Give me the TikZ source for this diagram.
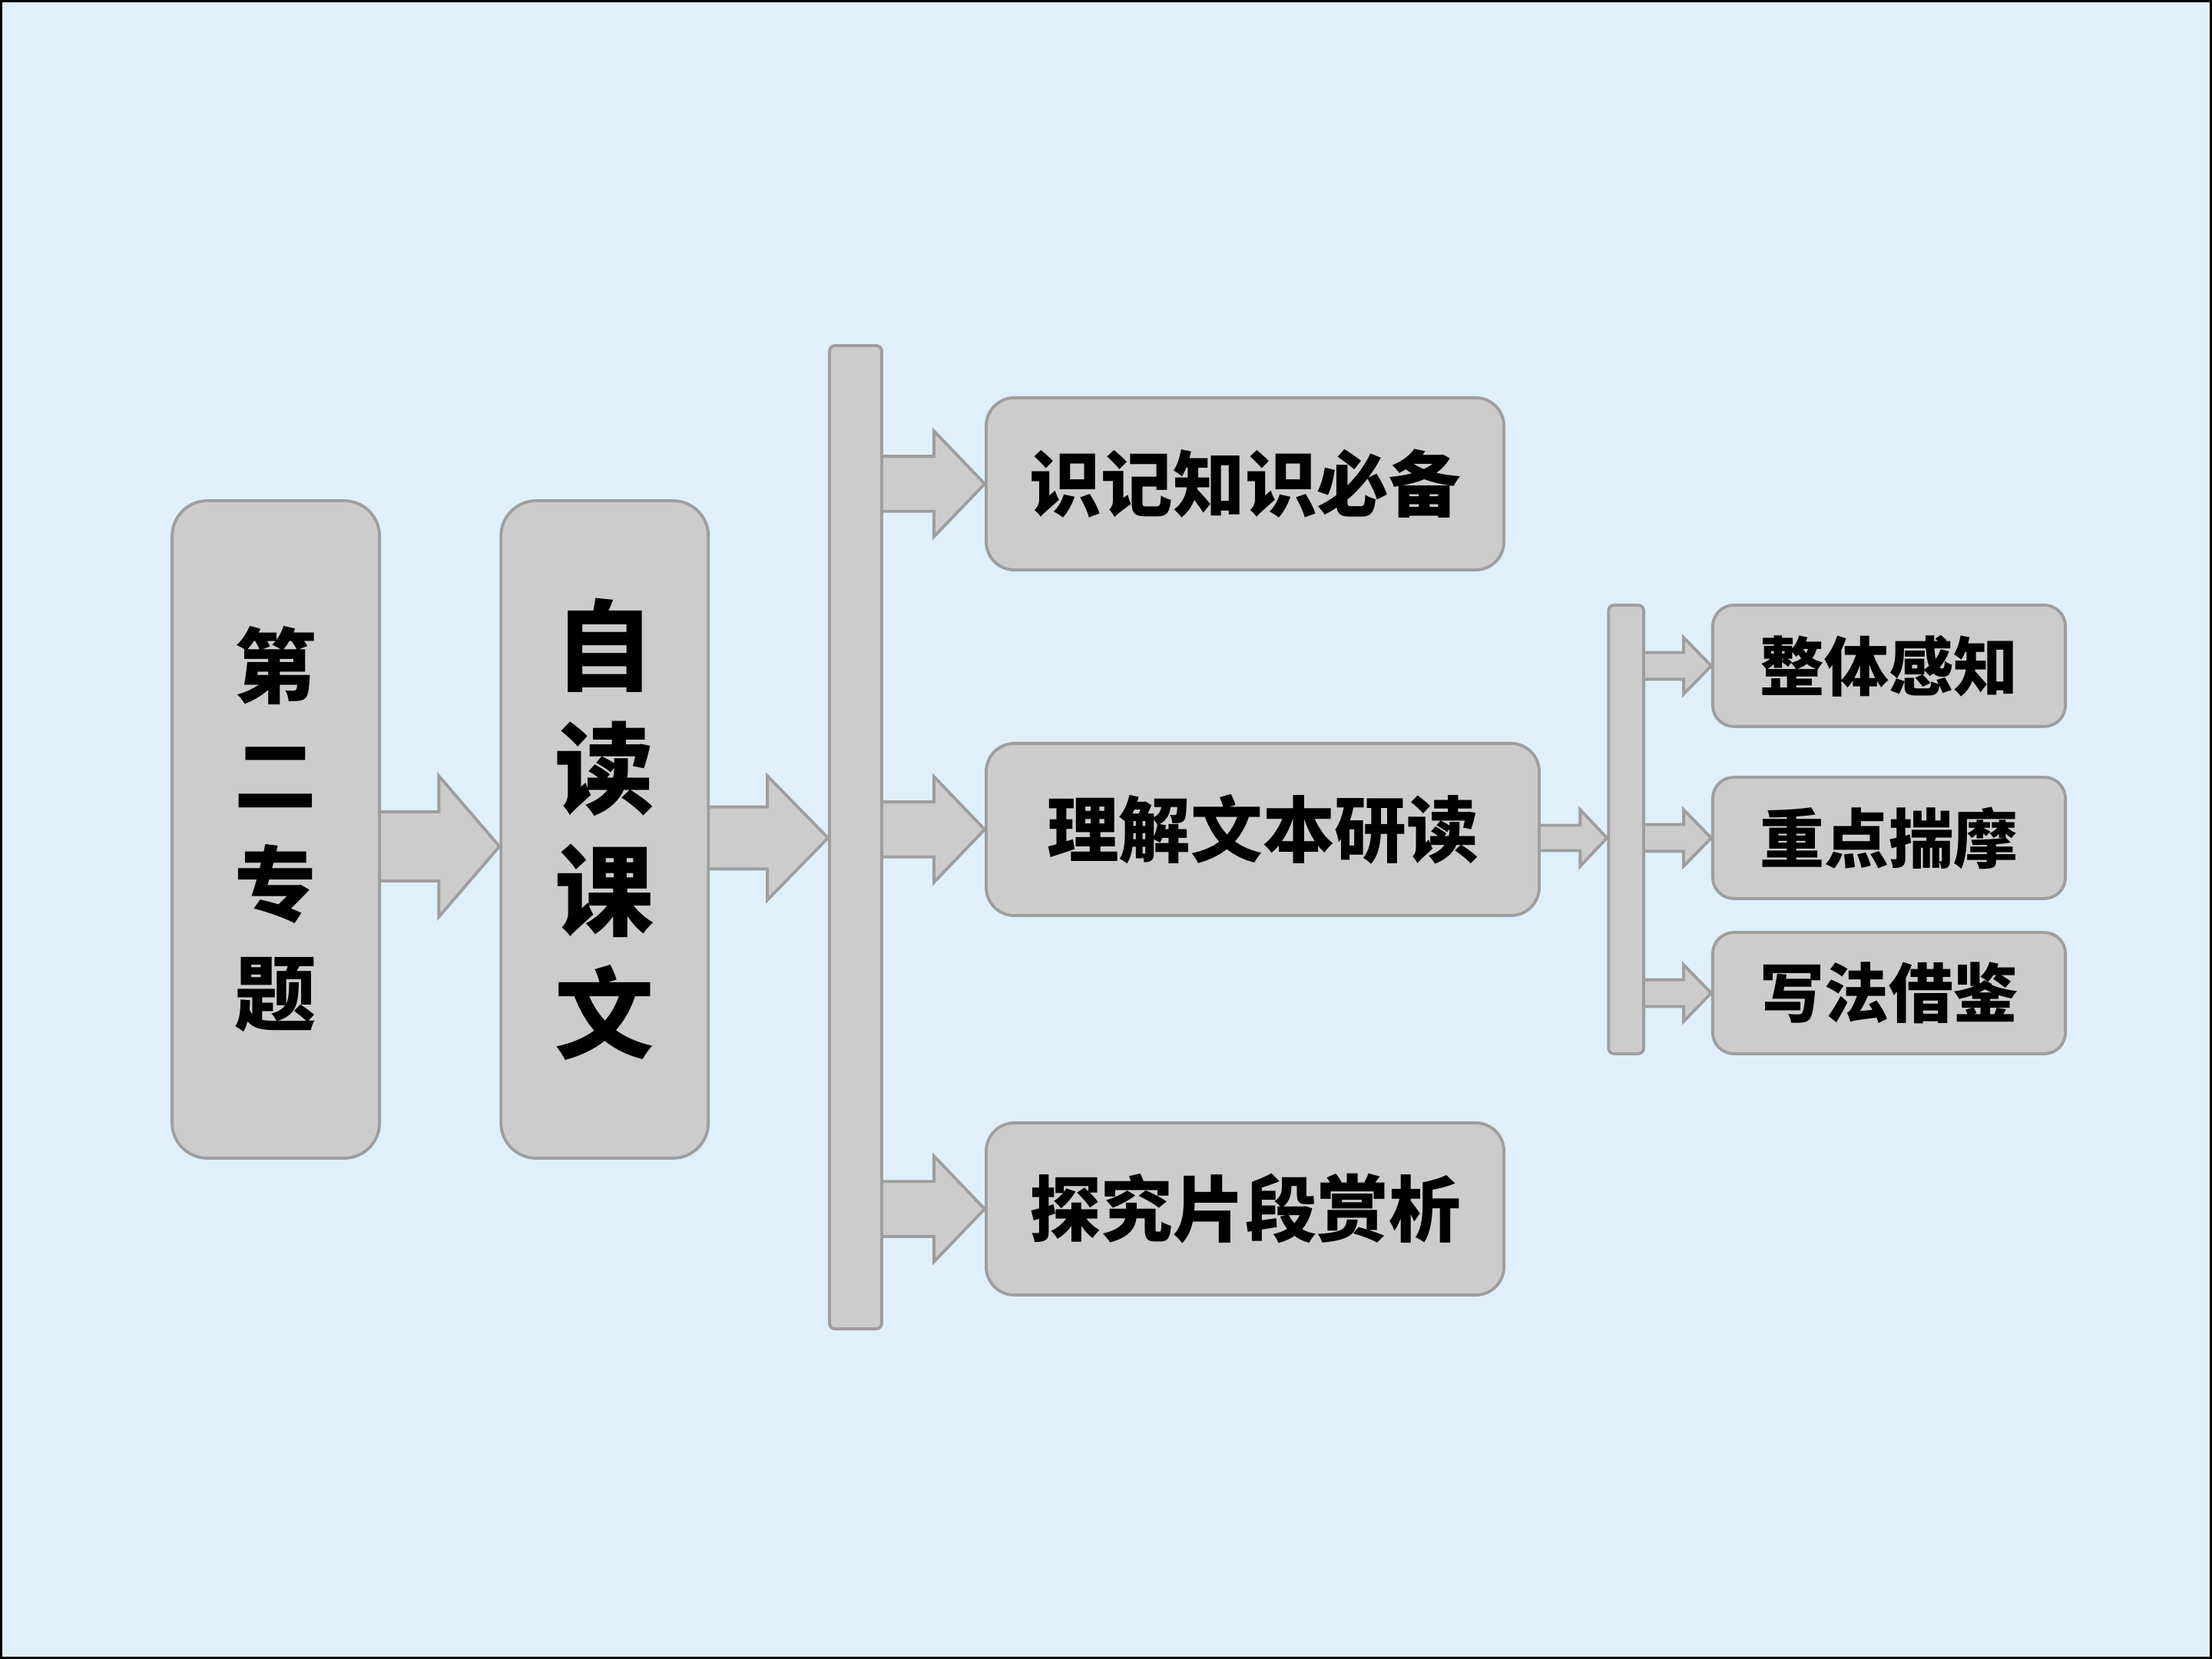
\documentclass[tikz,border=0pt]{standalone}
\usepackage{fontspec}
\newfontfamily\cjk{Noto Sans CJK SC}
\usetikzlibrary{positioning, calc}
\definecolor{bgblue}{HTML}{DFF0FA}
\definecolor{boxgray}{HTML}{CCCCCC}
\definecolor{edgegray}{HTML}{9E9E9E}
\tikzset{kbox/.style={draw=edgegray, fill=boxgray, line width=0.6pt, rounded corners=0.2cm, inner sep=0pt}}
\tikzset{kbar/.style={kbox, rounded corners=0.04cm}}
\tikzset{fatarrow/.style={fill=boxgray, draw=edgegray, line width=0.6pt}}
\newcommand{\blockarr}[5]{%
  \path[fatarrow] let \p1=#1, \p2=#2 in
    (\x1,{\y2+#3cm}) -- ({\x2-#5cm},{\y2+#3cm}) -- ({\x2-#5cm},{\y2+#4cm}) -- (\x2,\y2)
    -- ({\x2-#5cm},{\y2-#4cm}) -- ({\x2-#5cm},{\y2-#3cm}) -- (\x1,{\y2-#3cm});}
\pgfdeclarelayer{back}
\pgfdeclarelayer{mid}
\pgfsetlayers{back,mid,main}

\begin{document}
\begin{tikzpicture}[
                every node/.style={font=\cjk\bfseries}
            ]
                \useasboundingbox (0,0) rectangle (15.68,11.76);
                \begin{pgfonlayer}{back}
                \draw[fill=bgblue, draw=black, line width=1pt] (0,0) rectangle (15.68,11.76);
                \end{pgfonlayer}

                \node[kbox, rounded corners=0.25cm, minimum width=1.47cm, minimum height=4.66cm, align=center,
                      font=\cjk\bfseries\fontsize{16.5pt}{22pt}\selectfont] (topic) at (1.955,5.88) {第\\二\\专\\题};
                \node[kbox, rounded corners=0.25cm, minimum width=1.47cm, minimum height=4.66cm, align=center,
                      font=\cjk\bfseries\fontsize{20pt}{24.7pt}\selectfont, right= 0.84cm of topic] (read) {自\\读\\课\\文};
                \node[kbar, minimum width=0.37cm, minimum height=6.97cm] (bar1) at (6.065,5.825) {};

                \node[kbox, minimum width=3.67cm, minimum height=1.22cm, anchor=west,
                      font=\cjk\bfseries\fontsize{14.5pt}{16pt}\selectfont] (know) at (6.98,8.33) {识记知识必备};
                \node[kbox, minimum width=3.92cm, minimum height=1.22cm, anchor=west,
                      font=\cjk\bfseries\fontsize{14.5pt}{16pt}\selectfont] (study) at (6.98,5.88) {理解文本研读};
                \node[kbox, minimum width=3.67cm, minimum height=1.22cm, anchor=west,
                      font=\cjk\bfseries\fontsize{14.5pt}{16pt}\selectfont] (probe) at (6.98,3.19) {探究片段赏析};

                \node[kbar, minimum width=0.25cm, minimum height=3.18cm, right= 0.47cm of study] (bar2) {};

                \node[kbox, rounded corners=0.15cm, minimum width=2.5cm, minimum height=0.86cm, anchor=west,
                      font=\cjk\bfseries\fontsize{13pt}{15pt}\selectfont] (whole) at (12.13,7.04) {整体感知};
                \node[kbox, rounded corners=0.15cm, minimum width=2.5cm, minimum height=0.86cm, anchor=west,
                      font=\cjk\bfseries\fontsize{13pt}{15pt}\selectfont] (focus) at (12.13,5.82) {重点揣摩};
                \node[kbox, rounded corners=0.15cm, minimum width=2.5cm, minimum height=0.86cm, anchor=west,
                      font=\cjk\bfseries\fontsize{13pt}{15pt}\selectfont] (write) at (12.13,4.72) {写法借鉴};

                \begin{pgfonlayer}{mid}
                \blockarr{(topic.east)}{($(read.west)+(0,-0.12)$)}{0.245}{0.50}{0.43}
                \blockarr{(read.east)}{($(bar1.west)+(0,-0.005)$)}{0.22}{0.44}{0.43}
                \blockarr{(bar1.east)}{(know.west)}{0.195}{0.375}{0.36}
                \blockarr{(bar1.east)}{(study.west)}{0.195}{0.375}{0.36}
                \blockarr{(bar1.east)}{(probe.west)}{0.195}{0.375}{0.36}
                \blockarr{(study.east)}{($(bar2.west)+(0,-0.06)$)}{0.09}{0.20}{0.19}
                \blockarr{(bar2.east)}{(whole.west)}{0.095}{0.20}{0.195}
                \blockarr{(bar2.east)}{(focus.west)}{0.095}{0.20}{0.195}
                \blockarr{(bar2.east)}{(write.west)}{0.095}{0.20}{0.195}
                \end{pgfonlayer}
            \end{tikzpicture}
\end{document}
